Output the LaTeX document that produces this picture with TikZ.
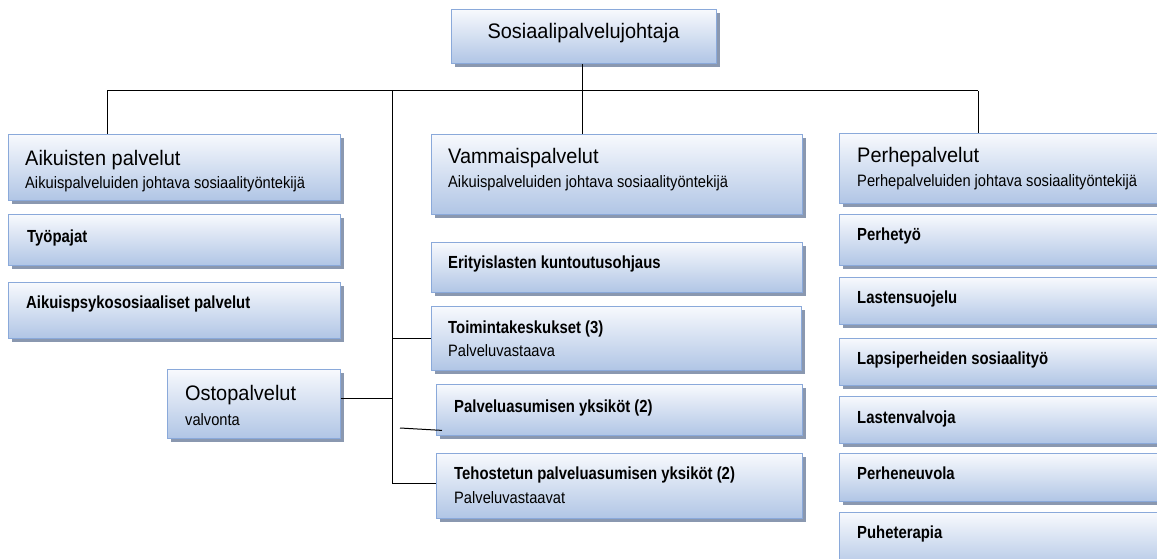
\documentclass[tikz,border=0pt]{standalone}
\usepackage{fontspec}
\setmainfont{Liberation Sans}
\newfontfamily\headf[FakeStretch=0.95]{Liberation Sans}
\newfontfamily\subf[FakeStretch=0.89]{Liberation Sans}
\newfontfamily\itemf[FakeStretch=0.85]{Liberation Sans}
\usetikzlibrary{shadows,calc}
\definecolor{bordc}{HTML}{8AA9DA}
\definecolor{topc}{HTML}{F7F9FD}
\definecolor{botc}{HTML}{B0C5E5}
\definecolor{shadc}{HTML}{8A98B0}
\definecolor{txtc}{HTML}{000000}
\tikzset{
  obox/.style={rectangle, draw=bordc, line width=1.4pt, top color=topc, bottom color=botc,
    drop shadow={shadow xshift=3pt, shadow yshift=-3.5pt, fill=shadc, opacity=1},
    anchor=north west, inner sep=0pt},
  head/.style={anchor=base west, inner sep=0pt, text=txtc, font=\headf\fontsize{21}{24}\selectfont},
  subt/.style={anchor=base west, inner sep=0pt, text=txtc, font=\subf\fontsize{16.5}{19}\selectfont},
  itemt/.style={anchor=base west, inner sep=0pt, text=txtc, font=\itemf\bfseries\fontsize{17.5}{20}\selectfont},
  conn/.style={draw=black, line width=1pt}
}
\newcommand{\mybox}[5]{%
  \node[obox, minimum width=#4pt-#2pt, minimum height=#5pt-#3pt] (#1) at (#2,-#3) {};}
\begin{document}
\begin{tikzpicture}[x=1pt,y=1pt]
\useasboundingbox (0,0) rectangle (1157,-559);
% boxes
\mybox{top}{451}{9}{716}{63}
\mybox{aik}{8}{134}{340}{200}
\mybox{tyo}{8}{214}{340}{265}
\mybox{aps}{8}{282}{340}{338}
\mybox{osto}{167}{369}{340}{438}
\mybox{vam}{431}{134}{802}{214}
\mybox{eri}{431}{242}{802}{292}
\mybox{toi}{431}{306}{801}{370}
\mybox{pal}{436}{384}{802}{435}
\mybox{teh}{436}{453}{802}{518}
\mybox{per}{839}{133}{1175}{203}
\mybox{pty}{839}{214}{1175}{265}
\mybox{las}{839}{277}{1175}{324}
\mybox{lap}{839}{338}{1175}{385}
\mybox{lva}{839}{396}{1175}{443}
\mybox{pne}{839}{453}{1175}{501}
\mybox{puh}{839}{512}{1175}{570}
% texts
\node[head, anchor=base] (top-t) at (583.5,-39) {Sosiaalipalvelujohtaja};
\node[head] (aik-t) at (25,-165) {Aikuisten palvelut};
\node[subt] (aik-s) at (25,-189) {Aikuispalveluiden johtava sosiaalityöntekijä};
\node[itemt] (tyo-t) at (27,-242) {Työpajat};
\node[itemt] (aps-t) at (26,-308) {Aikuispsykososiaaliset palvelut};
\node[head] (osto-t) at (185,-400) {Ostopalvelut};
\node[subt] (osto-s) at (185,-425) {valvonta};
\node[head] (vam-t) at (448,-164) {Vammaispalvelut};
\node[subt] (vam-s) at (448,-188) {Aikuispalveluiden johtava sosiaalityöntekijä};
\node[itemt] (eri-t) at (448,-268) {Erityislasten kuntoutusohjaus};
\node[itemt] (toi-t) at (448,-333) {Toimintakeskukset (3)};
\node[subt] (toi-s) at (448,-356) {Palveluvastaava};
\node[itemt] (pal-t) at (454,-412) {Palveluasumisen yksiköt (2)};
\node[itemt] (teh-t) at (454,-479) {Tehostetun palveluasumisen yksiköt (2)};
\node[subt] (teh-s) at (454,-503) {Palveluvastaavat};
\node[head] (per-t) at (857,-163) {Perhepalvelut};
\node[subt] (per-s) at (857,-186) {Perhepalveluiden johtava sosiaalityöntekijä};
\node[itemt] (pty-t) at (857,-240) {Perhetyö};
\node[itemt] (las-t) at (857,-303) {Lastensuojelu};
\node[itemt] (lap-t) at (857,-364) {Lapsiperheiden sosiaalityö};
\node[itemt] (lva-t) at (857,-423) {Lastenvalvoja};
\node[itemt] (pne-t) at (857,-479) {Perheneuvola};
\node[itemt] (puh-t) at (857,-538) {Puheterapia};
% connectors
\coordinate (hl) at (107,-91);
\coordinate (hr) at (978,-91);
\coordinate (vt) at (392,-91);
\coordinate (vb) at (392,-483);
\coordinate (sl) at (400,-428);
\draw[conn] (582,-63 |- top.south) -- (582,-134 |- vam.north);
\draw[conn] (hl) -- (hr);
\draw[conn] (hl) -- (hl |- aik.north);
\draw[conn] (hr) -- (hr |- per.north);
\draw[conn] (vt) -- (vb) -- (vb -| teh.west);
\draw[conn] (vt |- toi.west) -- (toi.west);
\draw[conn] ([yshift=5.5]osto.east) coordinate (oe) -- (oe -| vt);
\draw[conn] (sl) -- ($(pal.south west)+(6,6)$);
\end{tikzpicture}
\end{document}
